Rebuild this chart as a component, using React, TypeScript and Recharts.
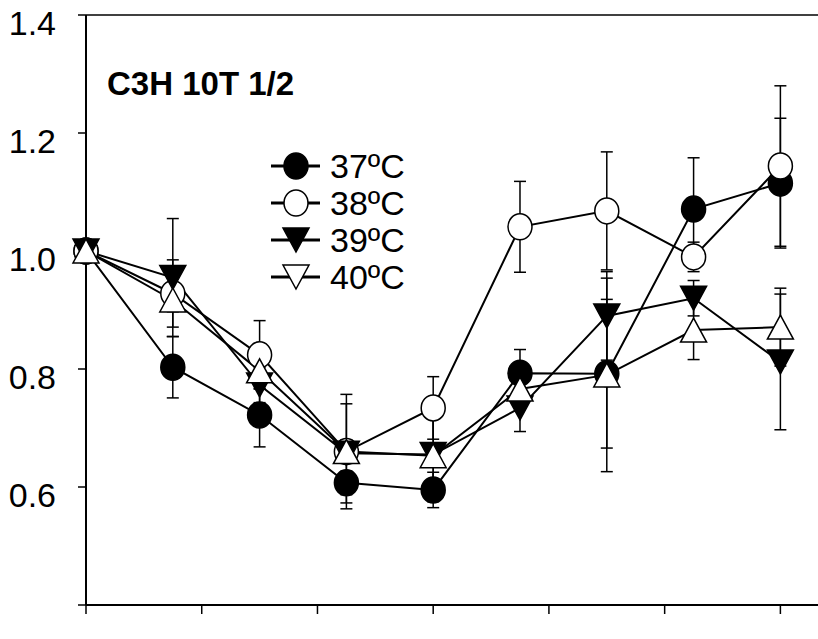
import { LineChart, Line, XAxis, YAxis, ErrorBar, ReferenceLine, Legend } from 'recharts';

const hours = [0, 3, 6, 9, 12, 15, 18, 21, 24];
const xTicks = [0, 4, 8, 12, 16, 20, 24];
const yTicks = [0.4, 0.6, 0.8, 1.0, 1.2, 1.4];

const t37 = [1.0, 0.803, 0.722, 0.607, 0.595, 0.793, 0.792, 1.071, 1.115];
const e37 = [0, 0.052, 0.054, 0.02, 0.03, 0.04, 0.126, 0.087, 0.11];
const t38 = [1.0, 0.928, 0.824, 0.66, 0.734, 1.041, 1.068, 0.99, 1.144];
const e38 = [0, 0.057, 0.058, 0.097, 0.053, 0.077, 0.1, 0.025, 0.136];
const t39 = [1.0, 0.955, 0.773, 0.657, 0.655, 0.734, 0.89, 0.92, 0.812];
const e39 = [0, 0.1, 0.03, 0.084, 0.08, 0.04, 0.075, 0.03, 0.115];
const t40 = [1.0, 0.917, 0.797, 0.66, 0.653, 0.766, 0.79, 0.866, 0.871];
const e40 = [0, 0.02, 0.03, 0.02, 0.075, 0.03, 0.164, 0.05, 0.066];

const seriesNames = ['37ºC', '38ºC', '39ºC', '40ºC'];

const data = hours.map((h, i) => ({
  h,
  t37: t37[i], e37: e37[i],
  t38: t38[i], e38: e38[i],
  t39: t39[i], e39: e39[i],
  t40: t40[i], e40: e40[i],
}));

const FONT = '"Liberation Sans", Arial, sans-serif';

type Kind = 'fillCircle' | 'openCircle' | 'fillDown' | 'openUp' | 'openDown';

const Marker = ({ cx, cy, kind }: { cx: number; cy: number; kind: Kind }) => {
  if (cx == null || cy == null) return null;
  if (kind === 'fillCircle' || kind === 'openCircle') {
    return (
      <ellipse cx={cx} cy={cy} rx={12} ry={13}
        fill={kind === 'fillCircle' ? '#000' : '#fff'} stroke="#000" strokeWidth={1.5} />
    );
  }
  const w = 13;
  const hgt = 24;
  const pts = kind === 'fillDown' || kind === 'openDown'
    ? `${cx - w},${cy - hgt / 2} ${cx + w},${cy - hgt / 2} ${cx},${cy + hgt / 2}`
    : `${cx - w},${cy + hgt / 2} ${cx + w},${cy + hgt / 2} ${cx},${cy - hgt / 2}`;
  return <polygon points={pts} fill={kind === 'fillDown' ? '#000' : '#fff'} stroke="#000" strokeWidth={1.5} />;
};

const dotFor = (kind: Kind) => (p: any) => (
  <Marker key={`${kind}-${p.index}`} cx={p.cx} cy={p.cy} kind={kind} />
);

const YTick = ({ x, y, payload }: any) => {
  if (Math.abs(payload.value - 0.4) < 1e-6) return null;
  return (
    <text x={x} y={y + 8} dy="0.355em" textAnchor="end" fontSize={34} fontFamily={FONT} fill="#000">
      {payload.value.toFixed(1)}
    </text>
  );
};

const legendKinds: Kind[] = ['fillCircle', 'openCircle', 'fillDown', 'openDown'];

const renderLegend = () => (
  <div style={{ fontFamily: FONT }}>
    {seriesNames.map((name, i) => (
      <div key={name} style={{ display: 'flex', alignItems: 'center', height: 37 }}>
        <svg width={52} height={30}>
          <line x1={1} y1={15} x2={50} y2={15} stroke="#000" strokeWidth={3} />
          <Marker cx={26} cy={15} kind={legendKinds[i]} />
        </svg>
        <span style={{ fontSize: 34, marginLeft: 8, lineHeight: 1 }}>{name}</span>
      </div>
    ))}
  </div>
);

export default function App() {
  return (
    <div style={{ position: 'absolute', left: 0, top: 0, width: 818, height: 639, background: '#fff' }}>
      <LineChart width={818} height={639} data={data} margin={{ top: 15, right: 0, bottom: 4, left: 0 }}>
        <XAxis dataKey="h" type="number" domain={[0, 25.3]} ticks={xTicks} tickFormatter={() => ''}
          tickSize={9} height={30} axisLine={{ stroke: '#000', strokeWidth: 2 }}
          tickLine={{ stroke: '#000', strokeWidth: 1.5 }} />
        <YAxis type="number" domain={[0.4, 1.4]} ticks={yTicks} width={86} tickSize={8} tickMargin={22}
          tick={<YTick />} axisLine={{ stroke: '#000', strokeWidth: 2 }}
          tickLine={{ stroke: '#000', strokeWidth: 1.5 }} />
        <ReferenceLine y={1.4} stroke="#000" strokeWidth={1.5} />
        <Legend layout="vertical" align="center" verticalAlign="middle"
          wrapperStyle={{ position: 'absolute', left: 270, top: 147, width: 170 }} content={renderLegend} />
        <Line dataKey="t37" stroke="#000" strokeWidth={2} isAnimationActive={false} dot={dotFor('fillCircle')} activeDot={false}>
          <ErrorBar dataKey="e37" width={6} stroke="#000" strokeWidth={1.5} />
        </Line>
        <Line dataKey="t38" stroke="#000" strokeWidth={2} isAnimationActive={false} dot={dotFor('openCircle')} activeDot={false}>
          <ErrorBar dataKey="e38" width={6} stroke="#000" strokeWidth={1.5} />
        </Line>
        <Line dataKey="t39" stroke="#000" strokeWidth={2} isAnimationActive={false} dot={dotFor('fillDown')} activeDot={false}>
          <ErrorBar dataKey="e39" width={6} stroke="#000" strokeWidth={1.5} />
        </Line>
        <Line dataKey="t40" stroke="#000" strokeWidth={2} isAnimationActive={false} dot={dotFor('openUp')} activeDot={false}>
          <ErrorBar dataKey="e40" width={6} stroke="#000" strokeWidth={1.5} />
        </Line>
      </LineChart>
      <div style={{ position: 'absolute', left: 107, top: 67, fontFamily: FONT, fontWeight: 'bold', fontSize: 33, lineHeight: 1 }}>
        C3H 10T 1/2
      </div>
    </div>
  );
}
